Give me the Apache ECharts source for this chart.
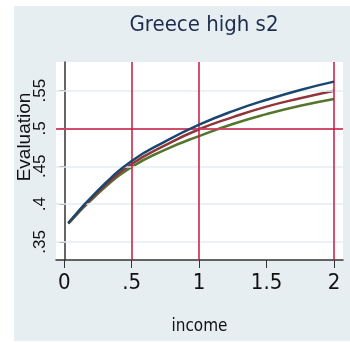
<!DOCTYPE html>
<html>
<head>
<meta charset="utf-8">
<script src="https://cdn.jsdelivr.net/npm/echarts@6/dist/echarts.min.js"></script>
<style>
  html, body { margin: 0; padding: 0; background: #ffffff; }
  #chart { width: 350px; height: 343px; }
</style>
</head>
<body>
<div id="chart"></div>
<script>
// Predicted evaluation by income, three scenarios
const income = [0.03, 0.25, 0.5, 0.75, 1, 1.25, 1.5, 1.75, 2];
const seriesBlue  = [0.375, 0.418, 0.457, 0.483, 0.505, 0.523, 0.538, 0.551, 0.562];
const seriesRed   = [0.375, 0.416, 0.453, 0.478, 0.499, 0.515, 0.529, 0.540, 0.550];
const seriesGreen = [0.374, 0.414, 0.449, 0.472, 0.490, 0.506, 0.519, 0.530, 0.539];

const xTickValues = [0, 0.5, 1, 1.5, 2];
const xTickLabels = ['0', '.5', '1', '1.5', '2'];
const yTickValues = [0.35, 0.4, 0.45, 0.5, 0.55];
const yTickLabels = ['.35', '.4', '.45', '.5', '.55'];

// Reference lines
const xRefLines = [0.5, 1, 2];
const yRefLines = [0.5];

const titleText = 'Greece high s2';
const xTitle = 'income';
const yTitle = 'Evaluation';

const narrow = '"Liberation Sans Narrow", "DejaVu Sans Condensed", "Liberation Sans", sans-serif';
const regular = '"Liberation Sans", Arial, sans-serif';
const gridColor = '#e4edf0';
const refColor = '#c8173f';

const pairs = (ys) => income.map((x, i) => [x, ys[i]]);

const markData = [];
yTickValues.forEach(v => markData.push({ yAxis: v, lineStyle: { color: gridColor, width: 1.5, type: 'solid' } }));
xRefLines.forEach(v => markData.push({ xAxis: v, lineStyle: { color: refColor, width: 1.5, type: 'solid' } }));
yRefLines.forEach(v => markData.push({ yAxis: v, lineStyle: { color: refColor, width: 1.5, type: 'solid' } }));

const chart = echarts.init(document.getElementById('chart'), null, { renderer: 'canvas' });

chart.setOption({
  backgroundColor: '#ffffff',
  animation: false,
  title: {
    text: titleText,
    left: 199,
    top: 9,
    textAlign: 'center',
    textStyle: { fontFamily: narrow, fontSize: 22, fontWeight: 'normal', color: '#1e2c4e' }
  },
  graphic: [
    {
      type: 'rect', z: -10, silent: true,
      shape: { x: 14, y: 6, width: 336, height: 335 },
      style: { fill: '#e6eef1' }
    },
    {
      type: 'text', silent: true,
      x: 25, y: 137, rotation: Math.PI / 2,
      style: {
        text: yTitle, fontFamily: regular, fontSize: 19, fill: '#111',
        align: 'center', verticalAlign: 'middle'
      }
    }
  ],
  grid: {
    left: 56, right: 7, top: 62, bottom: 83,
    show: true, backgroundColor: '#ffffff', borderWidth: 0
  },
  xAxis: {
    type: 'value',
    min: -0.0616, max: 2.067,
    name: xTitle,
    nameLocation: 'middle',
    nameGap: 58,
    nameTextStyle: { fontFamily: narrow, fontSize: 17, color: '#111' },
    axisLine: { show: true, lineStyle: { color: '#333', width: 1.5 } },
    axisTick: { show: true, length: 8, customValues: xTickValues, lineStyle: { color: '#333', width: 1 } },
    axisLabel: {
      customValues: xTickValues,
      formatter: (v) => xTickLabels[xTickValues.indexOf(v)],
      fontFamily: narrow, fontSize: 22, color: '#111', margin: 12
    },
    splitLine: { show: false }
  },
  yAxis: {
    type: 'value',
    min: 0.326, max: 0.588,
    axisLine: { show: true, lineStyle: { color: '#333', width: 1.5 } },
    axisTick: { show: true, length: 5, customValues: yTickValues, lineStyle: { color: '#333', width: 1 } },
    axisLabel: {
      customValues: yTickValues,
      formatter: (v) => yTickLabels[yTickValues.indexOf(v)],
      rotate: 90,
      fontFamily: regular, fontSize: 17, color: '#111', margin: 7
    },
    splitLine: { show: false }
  },
  series: [
    {
      type: 'line', data: [], z: 1, silent: true,
      markLine: { silent: true, symbol: ['none', 'none'], label: { show: false }, animation: false, data: markData }
    },
    { name: 'blue', type: 'line', data: pairs(seriesBlue), smooth: true, showSymbol: false, z: 5,
      lineStyle: { color: '#1a476f', width: 2.5 } },
    { name: 'red', type: 'line', data: pairs(seriesRed), smooth: true, showSymbol: false, z: 4,
      lineStyle: { color: '#90353b', width: 2.5 } },
    { name: 'green', type: 'line', data: pairs(seriesGreen), smooth: true, showSymbol: false, z: 3,
      lineStyle: { color: '#55752f', width: 2.5 } }
  ]
});
</script>
</body>
</html>
